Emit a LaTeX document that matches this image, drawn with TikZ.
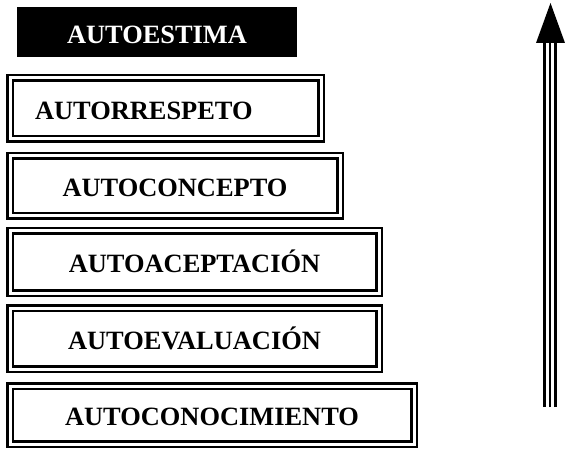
\documentclass[tikz,border=0pt]{standalone}
\usepackage{fontspec}
\setmainfont{Liberation Serif}
\begin{document}
\begin{tikzpicture}[x=1pt,y=-1pt,
  lbl/.style={font=\fontsize{26.4}{30}\selectfont\bfseries},
  dbox/.style={draw, line width=2.5pt, double=white, double distance=3pt,
    inner sep=0pt, text height=21.5pt, text depth=0pt, lbl},
  topbox/.style={fill=black, text=white, inner sep=0pt, text height=23.5pt, text depth=0pt, lbl},
  shaft/.style={line width=2.8pt},
]
\useasboundingbox (0,0) rectangle (565,449);

\node[topbox, minimum width=280pt, minimum height=50pt] (estima) at (157,32) {AUTOESTIMA};

\node[dbox, minimum width=311pt, minimum height=61pt, text width=261pt, align=left] (respeto) at (165.5,108.5) {AUTORRESPETO};
\node[dbox, minimum width=330pt, minimum height=60pt] (concepto) at (175,186) {AUTOCONCEPTO};
\node[dbox, minimum width=369pt, minimum height=62pt] (aceptacion) at (194.5,262) {AUTOACEPTACIÓN};
\node[dbox, minimum width=369pt, minimum height=61pt] (evaluacion) at (194.5,338.5) {AUTOEVALUACIÓN};
\node[dbox, minimum width=404pt, minimum height=58pt] (conocimiento) at (212,415) {AUTOCONOCIMIENTO};

% arrow
\coordinate (abot) at (550,407);
\coordinate (atop) at (550,43);
\coordinate (tip) at (550.5,3);
\coordinate (bl) at (536,43);
\coordinate (br) at (565,43);
\draw[shaft] ([xshift=-5.5pt]abot) -- ([xshift=-5.5pt]atop);
\draw[shaft] (abot) -- (atop);
\draw[shaft] ([xshift=5.5pt]abot) -- ([xshift=5.5pt]atop);
\fill (bl) -- (tip) -- (br) -- cycle;
\end{tikzpicture}
\end{document}
